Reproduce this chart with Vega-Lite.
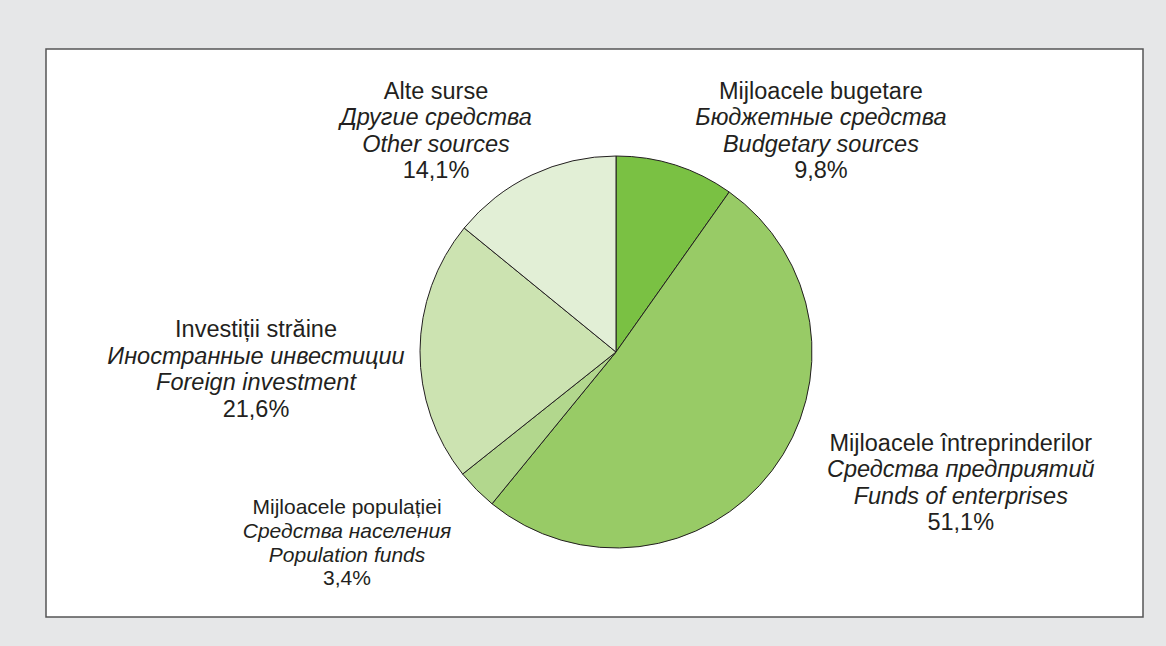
{
  "$schema": "https://vega.github.io/schema/vega-lite/v6.json",
  "width": 1097,
  "height": 568,
  "padding": {"left": 46, "top": 49, "right": 23, "bottom": 29},
  "autosize": {"type": "none"},
  "background": "#e6e7e8",
  "view": {"fill": "white", "stroke": "#555555", "strokeWidth": 1.5},
  "config": {
    "view": {"fill": "white", "stroke": "#555555", "strokeWidth": 1.5},
    "locale": {"number": {"decimal": ",", "thousands": " ", "grouping": [3], "currency": ["", ""], "percent": "%"}},
    "text": {"font": "Liberation Sans", "color": "#231f20"}
  },
  "data": {"values": [
    {"ro": "Mijloacele bugetare", "ru": "Бюджетные средства", "en": "Budgetary sources", "share": 0.098},
    {"ro": "Mijloacele întreprinderilor", "ru": "Средства предприятий", "en": "Funds of enterprises", "share": 0.511},
    {"ro": "Mijloacele populației", "ru": "Средства населения", "en": "Population funds", "share": 0.034},
    {"ro": "Investiții străine", "ru": "Иностранные инвестиции", "en": "Foreign investment", "share": 0.216},
    {"ro": "Alte surse", "ru": "Другие средства", "en": "Other sources", "share": 0.141}
  ]},
  "transform": [{"window": [{"op": "row_number", "as": "rank"}]}],
  "encoding": {
    "theta": {"field": "share", "type": "quantitative", "stack": true},
    "order": {"field": "rank", "type": "quantitative"}
  },
  "layer": [
    {
      "mark": {"type": "arc", "outerRadius": 196, "x": 570, "y": 303, "stroke": "#231f20", "strokeWidth": 1},
      "encoding": {
        "color": {"field": "en", "type": "nominal", "legend": null,
          "scale": {"domain": ["Budgetary sources", "Funds of enterprises", "Population funds", "Foreign investment", "Other sources"],
                    "range": ["#7ac143", "#98cb66", "#b2d78d", "#cce3b1", "#e2efd6"]}}
      }
    },
    {
      "mark": {"type": "text", "x": 570, "y": 303, "radius": 300, "align": "center", "baseline": "alphabetic",
        "fontSize": {"expr": "datum.rank==3?21:23.5"},
        "dx": {"expr": "[114,106,-55.5,-60,-51.4][datum.rank-1]"},
        "dy": {"expr": "[32.5,-82.7,-48.5,-13.1,17.6][datum.rank-1]"}},
      "encoding": {"text": {"field": "ro"}}
    },
    {
      "mark": {"type": "text", "x": 570, "y": 303, "radius": 300, "align": "center", "baseline": "alphabetic", "fontStyle": "italic",
        "fontSize": {"expr": "datum.rank==3?21:23.5"},
        "dx": {"expr": "[114,106,-55.5,-60,-51.4][datum.rank-1]"},
        "dy": {"expr": "[32.5,-82.7,-48.5,-13.1,17.6][datum.rank-1] + (datum.rank==3?23.7:26.5)"}},
      "encoding": {"text": {"field": "ru"}}
    },
    {
      "mark": {"type": "text", "x": 570, "y": 303, "radius": 300, "align": "center", "baseline": "alphabetic", "fontStyle": "italic",
        "fontSize": {"expr": "datum.rank==3?21:23.5"},
        "dx": {"expr": "[114,106,-55.5,-60,-51.4][datum.rank-1]"},
        "dy": {"expr": "[32.5,-82.7,-48.5,-13.1,17.6][datum.rank-1] + 2*(datum.rank==3?23.7:26.5)"}},
      "encoding": {"text": {"field": "en"}}
    },
    {
      "mark": {"type": "text", "x": 570, "y": 303, "radius": 300, "align": "center", "baseline": "alphabetic",
        "fontSize": {"expr": "datum.rank==3?21:23.5"},
        "dx": {"expr": "[114,106,-55.5,-60,-51.4][datum.rank-1]"},
        "dy": {"expr": "[32.5,-82.7,-48.5,-13.1,17.6][datum.rank-1] + 3*(datum.rank==3?23.7:26.5)"}},
      "encoding": {"text": {"field": "share", "type": "quantitative", "format": ".1%"}}
    }
  ]
}
